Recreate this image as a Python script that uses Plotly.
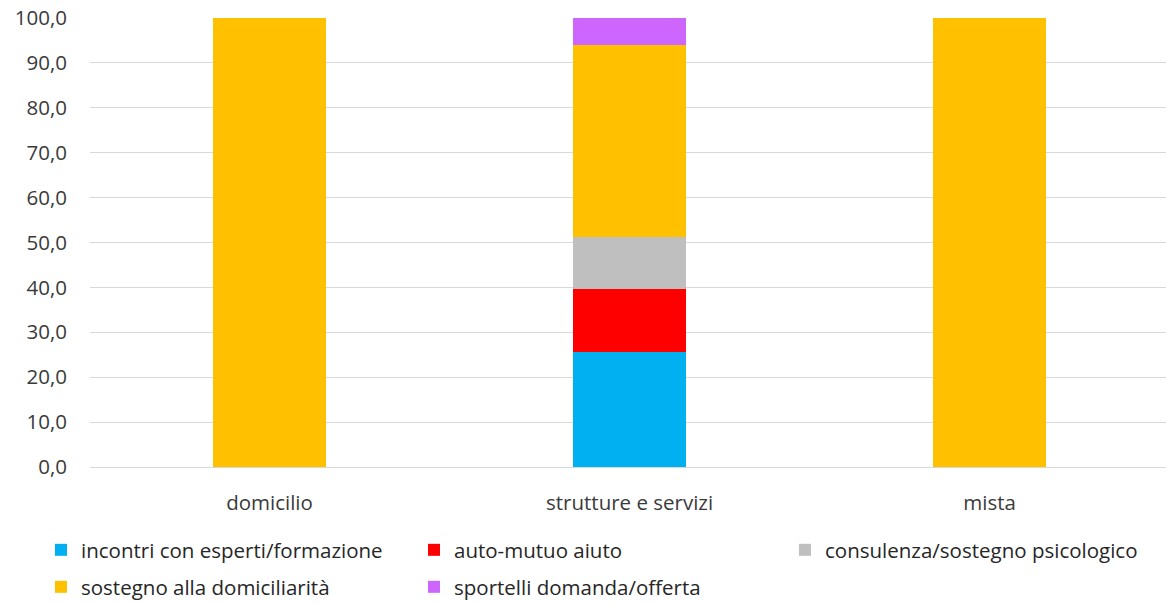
import plotly.graph_objects as go

categories = ["domicilio", "strutture e servizi", "mista"]
series_names = [
    "incontri con esperti/formazione",
    "auto-mutuo aiuto",
    "consulenza/sostegno psicologico",
    "sostegno alla domiciliarità",
    "sportelli domanda/offerta",
]
incontri = [0, 25.6, 0]
auto_mutuo = [0, 14.1, 0]
consulenza = [0, 11.5, 0]
sostegno = [100, 42.8, 100]
sportelli = [0, 6.0, 0]
series_values = [incontri, auto_mutuo, consulenza, sostegno, sportelli]
colors = ["#00B0F0", "#FF0000", "#BFBFBF", "#FFC000", "#CC66FF"]
legend_slots = ["legend", "legend", "legend3", "legend2", "legend2"]
y_ticks = [0, 10, 20, 30, 40, 50, 60, 70, 80, 90, 100]
y_tick_labels = [f"{v:.1f}".replace(".", ",") for v in y_ticks]

FONT = "'Open Sans', Lato, sans-serif"
TXT = "#3A3A3A"
FS = 20.5

fig = go.Figure()
for name, vals, col, lg in zip(series_names, series_values, colors, legend_slots):
    fig.add_trace(go.Bar(
        x=categories, y=vals, name=name,
        marker=dict(color=col, line=dict(width=0)),
        width=0.314, legend=lg,
    ))

leg_common = dict(
    orientation="h",
    xref="container", yref="container",
    xanchor="left", yanchor="top",
    entrywidth=328, entrywidthmode="pixels",
    font=dict(family=FONT, size=FS, color="#262626"),
    traceorder="normal", bgcolor="rgba(0,0,0,0)",
    borderwidth=0,
)

fig.update_layout(
    barmode="stack",
    width=1166, height=603,
    margin=dict(l=90, r=0, t=18, b=136),
    plot_bgcolor="white", paper_bgcolor="white",
    font=dict(family=FONT, size=FS, color=TXT),
    showlegend=True,
    legend=dict(x=41 / 1166, y=1 - 530 / 603, **leg_common),
    legend2=dict(x=41 / 1166, y=1 - 567 / 603, **leg_common),
    legend3=dict(x=785 / 1166, y=1 - 530 / 603, **leg_common),
)
fig.update_yaxes(
    range=[0, 100], tickvals=y_ticks, ticktext=y_tick_labels,
    showgrid=True, gridcolor="#D9D9D9", gridwidth=1,
    zeroline=False, showline=False,
    ticks="", ticklabelstandoff=22,
    tickfont=dict(family=FONT, size=FS, color=TXT),
)
fig.update_xaxes(
    range=[-0.4986, 2.490],
    showgrid=False, showline=True, linecolor="#D9D9D9", linewidth=1,
    ticks="outside", ticklen=17, tickcolor="rgba(0,0,0,0)",
    tickfont=dict(family=FONT, size=FS, color=TXT),
)

fig.write_html("out.html")
